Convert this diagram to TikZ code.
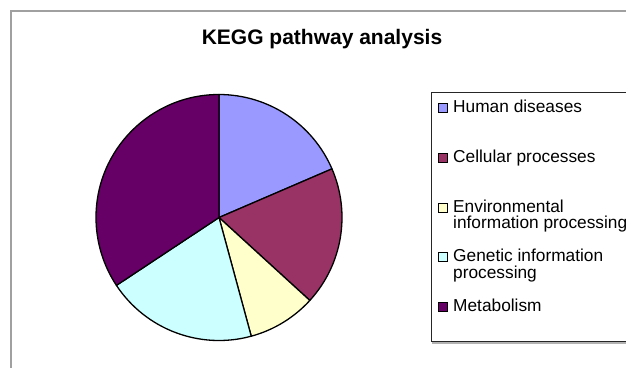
\documentclass[tikz,border=0pt]{standalone}
\usepackage{fontspec}
\setmainfont{Liberation Sans}
\definecolor{hdis}{HTML}{9999FF}
\definecolor{cell}{HTML}{993366}
\definecolor{envi}{HTML}{FFFFCC}
\definecolor{gene}{HTML}{CCFFFF}
\definecolor{meta}{HTML}{660066}
\definecolor{framegray}{HTML}{A0A0A0}
\tikzset{
  slice/.style={draw=black, line width=1.3pt, line join=round},
  swatch/.style={draw=black, line width=0.9pt, minimum size=9pt, inner sep=0pt},
  legtext/.style={anchor=base west, inner sep=0pt, font=\fontsize{17.3}{18}\selectfont},
  titletext/.style={anchor=base, inner sep=0pt, font=\fontsize{21}{25}\selectfont\bfseries},
}
\begin{document}
\begin{tikzpicture}[x=1pt,y=-1pt]
\useasboundingbox (0,0) rectangle (626,368);
\fill[white] (0,0) rectangle (626,368);
% outer chart frame
\fill[framegray] (10,10) rectangle (626,12);
\fill[framegray] (10,10) rectangle (12,368);
% title
\node[titletext] (title) at (322,44) {KEGG pathway analysis};
% pie
\begin{scope}[shift={(219,217.5)}, yscale=-1]
\def\R{123}
\filldraw[slice, fill=hdis] (0,0) -- (23.3:\R) arc[start angle=23.3, end angle=90, radius=\R] -- cycle;
\filldraw[slice, fill=cell] (0,0) -- (-42.4:\R) arc[start angle=-42.4, end angle=23.3, radius=\R] -- cycle;
\filldraw[slice, fill=envi] (0,0) -- (-74.8:\R) arc[start angle=-74.8, end angle=-42.4, radius=\R] -- cycle;
\filldraw[slice, fill=gene] (0,0) -- (-146.5:\R) arc[start angle=-146.5, end angle=-74.8, radius=\R] -- cycle;
\filldraw[slice, fill=meta] (0,0) -- (90:\R) arc[start angle=90, end angle=213.5, radius=\R] -- cycle;
\end{scope}
% legend box
\draw[gray!60, line width=1.5pt] (432,343) -- (626,343);
\draw[black!85, line width=0.9pt] (626,341.5) -- (431.5,341.5) -- (431.5,92.5) -- (626,92.5);
% legend entries
\node[swatch, fill=hdis] (s1) at (442.5,108) {};
\node[legtext] (t1) at (453,112.5) {Human diseases};
\node[swatch, fill=cell] (s2) at (442.5,158) {};
\node[legtext] (t2) at (453,162.5) {Cellular processes};
\node[swatch, fill=envi] (s3) at (442.5,207.5) {};
\node[legtext] (t3a) at (453,212) {Environmental};
\node[legtext] (t3b) at (453,228.5) {information processing};
\node[swatch, fill=gene] (s4) at (442.5,257) {};
\node[legtext] (t4a) at (453,261.5) {Genetic information};
\node[legtext] (t4b) at (453,278) {processing};
\node[swatch, fill=meta] (s5) at (442.5,306.5) {};
\node[legtext] (t5) at (453,311) {Metabolism};
\end{tikzpicture}
\end{document}
